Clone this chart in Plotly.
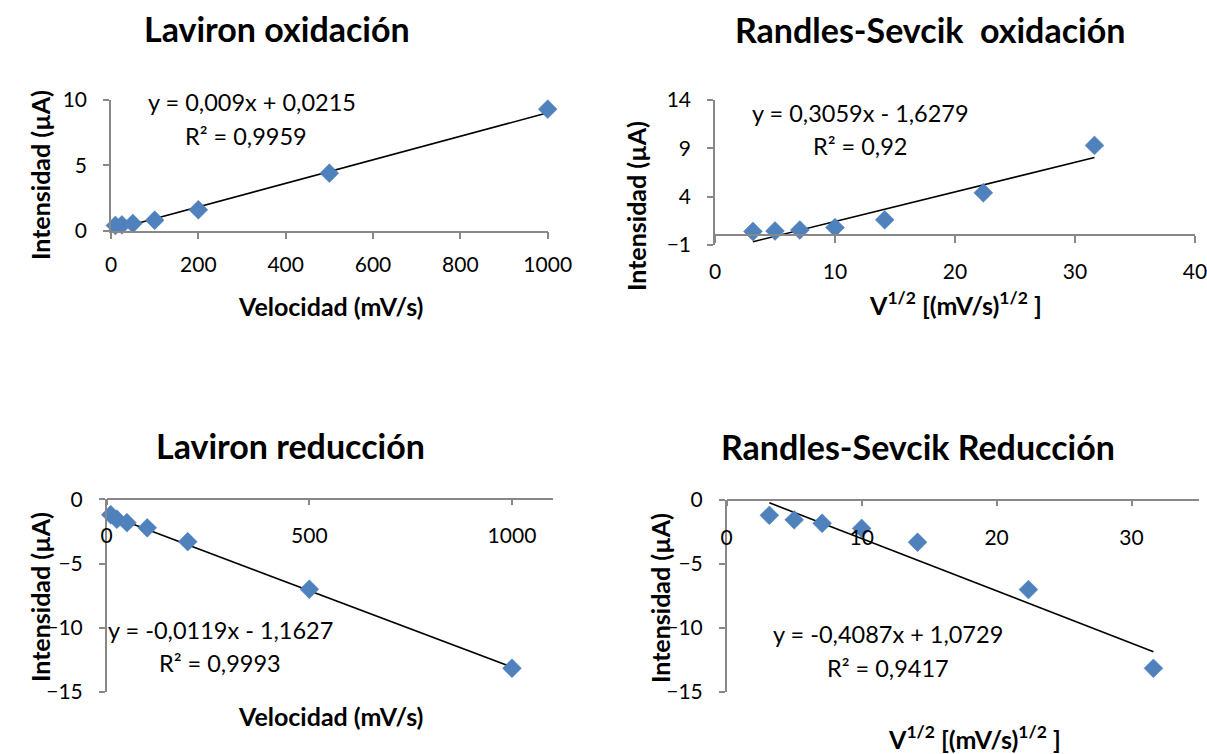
import plotly.graph_objects as go

# Scan rates (mV/s) and their square roots
velocidad = [10, 25, 50, 100, 200, 500, 1000]
raiz_velocidad = [3.162, 5.0, 7.071, 10.0, 14.142, 22.361, 31.623]

# Peak currents (µA)
intensidad_ox = [0.40, 0.45, 0.55, 0.80, 1.60, 4.40, 9.30]
intensidad_red = [-1.20, -1.55, -1.82, -2.22, -3.30, -7.00, -13.15]

# Linear fits: (slope, intercept, R²)
fit_lav_ox = (0.009, 0.0215, "0,9959")
fit_rs_ox = (0.3059, -1.6279, "0,92")
fit_lav_red = (-0.0119, -1.1627, "0,9993")
fit_rs_red = (-0.4087, 1.0729, "0,9417")

titles = ["Laviron oxidación", "Randles-Sevcik  oxidación",
          "Laviron reducción", "Randles-Sevcik Reducción"]
eq_labels = ["y = 0,009x + 0,0215", "y = 0,3059x - 1,6279",
             "y = -0,0119x - 1,1627", "y = -0,4087x + 1,0729"]

W, H = 1207, 754
FONT = "Lato"
BLUE = "#4F81BD"
AXIS_GREY = "#888888"


def px(x):
    return x / W


def py(y):
    return 1 - y / H


fig = go.Figure()

panels = [
    dict(x=velocidad, y=intensidad_ox, fit=fit_lav_ox, ax="x", ay="y"),
    dict(x=raiz_velocidad, y=intensidad_ox, fit=fit_rs_ox, ax="x2", ay="y2"),
    dict(x=velocidad, y=intensidad_red, fit=fit_lav_red, ax="x3", ay="y3"),
    dict(x=raiz_velocidad, y=intensidad_red, fit=fit_rs_red, ax="x4", ay="y4"),
]

for p in panels:
    m, b, _ = p["fit"]
    x0, x1 = min(p["x"]), max(p["x"])
    fig.add_trace(go.Scatter(
        x=[x0, x1], y=[m * x0 + b, m * x1 + b], mode="lines",
        line=dict(color="black", width=1.6), cliponaxis=False,
        xaxis=p["ax"], yaxis=p["ay"], showlegend=False, hoverinfo="skip"))
    fig.add_trace(go.Scatter(
        x=p["x"], y=p["y"], mode="markers", cliponaxis=False,
        marker=dict(symbol="diamond", size=14.5, color=BLUE,
                    line=dict(color="#4A7EBB", width=0.5)),
        xaxis=p["ax"], yaxis=p["ay"], showlegend=False))

tickfont = dict(family=FONT, size=21, color="black")
common = dict(showgrid=False, zeroline=False, showline=True, automargin=False,
              linecolor=AXIS_GREY, linewidth=1.5, tickcolor=AXIS_GREY,
              tickwidth=1.5, tickfont=tickfont, ticks="outside",
              ticklabeloverflow="allow")

# panel domains in pixels: (x_left, x_right, y_bottom, y_top)
dom = {
    1: (111, 547.7, 230.7, 100),
    2: (715, 1195, 245, 100),
    3: (106.7, 552.5, 692, 499.3),
    4: (726.7, 1199, 692, 500),
}


def xd(i):
    return [px(dom[i][0]), px(dom[i][1])]


def yd(i):
    return [py(dom[i][2]), py(dom[i][3])]


# y position (paper) of data value v on panel i with y range r
def ypos(i, v, r):
    b, t = yd(i)
    return b + (v - r[0]) / (r[1] - r[0]) * (t - b)


yr2 = [-1, 14]

fig.update_layout(
    width=W, height=H, margin=dict(l=0, r=0, t=0, b=0, autoexpand=False),
    paper_bgcolor="white", plot_bgcolor="white",
    xaxis=dict(common, domain=xd(1), range=[0, 1000], dtick=200, anchor="y",
               ticklen=7, ticklabelstandoff=7),
    yaxis=dict(common, domain=yd(1), range=[0, 10], dtick=5, anchor="x",
               ticklen=6, ticklabelstandoff=12),
    xaxis2=dict(common, domain=xd(2), range=[0, 40], dtick=10, anchor="free",
                position=ypos(2, 0, yr2), side="bottom",
                ticklen=7, ticklabelstandoff=11),
    yaxis2=dict(common, domain=yd(2), range=yr2, tickvals=[-1, 4, 9, 14],
                anchor="x2", ticklen=6, ticklabelstandoff=12),
    xaxis3=dict(common, domain=xd(3), range=[0, 1100], tickvals=[0, 500, 1000],
                anchor="free", position=yd(3)[1], side="bottom",
                ticklen=5, ticklabelstandoff=13),
    yaxis3=dict(common, domain=yd(3), range=[-15, 0], dtick=5, anchor="x3",
                ticklen=6, ticklabelstandoff=12),
    xaxis4=dict(common, domain=xd(4), range=[0, 35], dtick=10,
                anchor="free", position=yd(4)[1], side="bottom",
                ticklen=5, ticklabelstandoff=14),
    yaxis4=dict(common, domain=yd(4), range=[-15, 0], dtick=5, anchor="x4",
                ticklen=6, ticklabelstandoff=12),
)

annots = []
# chart titles
for text, (cx, cy) in zip(titles, [(277, 29), (930, 30), (290, 445), (918, 446)]):
    annots.append(dict(text=f"<b>{text}</b>", x=px(cx), y=py(cy),
                       font=dict(family=FONT, size=34, color="black")))

# axis titles
xlab_v = "<b>Velocidad (mV/s)</b>"
xlab_r = "<b>V<sup>1/2</sup> [(mV/s)<sup>1/2</sup> ]</b>"
for text, (cx, cy) in zip([xlab_v, xlab_r, xlab_v, xlab_r],
                          [(330, 306), (955, 303), (330, 716), (974, 737)]):
    annots.append(dict(text=text, x=px(cx), y=py(cy),
                       font=dict(family=FONT, size=25, color="black")))
ylab = "<b>Intensidad (µA)</b>"
for (cx, cy) in [(40, 175), (636, 206), (40, 597), (660, 598)]:
    annots.append(dict(text=ylab, x=px(cx), y=py(cy), textangle=-90,
                       font=dict(family=FONT, size=25, color="black")))

# trendline equations and R²
fits = [fit_lav_ox, fit_rs_ox, fit_lav_red, fit_rs_red]
eq_pos = [((252, 102), (246, 136)), ((860, 113), (860, 146)),
          ((220, 630), (220, 663)), ((888, 634), (888, 668))]
for lab, fit, (p1, p2) in zip(eq_labels, fits, eq_pos):
    annots.append(dict(text=lab, x=px(p1[0]), y=py(p1[1]),
                       font=dict(family=FONT, size=23.5, color="black")))
    annots.append(dict(text=f"R² = {fit[2]}", x=px(p2[0]), y=py(p2[1]),
                       font=dict(family=FONT, size=23.5, color="black")))

for a in annots:
    a.update(xref="paper", yref="paper", showarrow=False,
             xanchor="center", yanchor="middle")
fig.update_layout(annotations=annots)

fig.write_html("out.html")
